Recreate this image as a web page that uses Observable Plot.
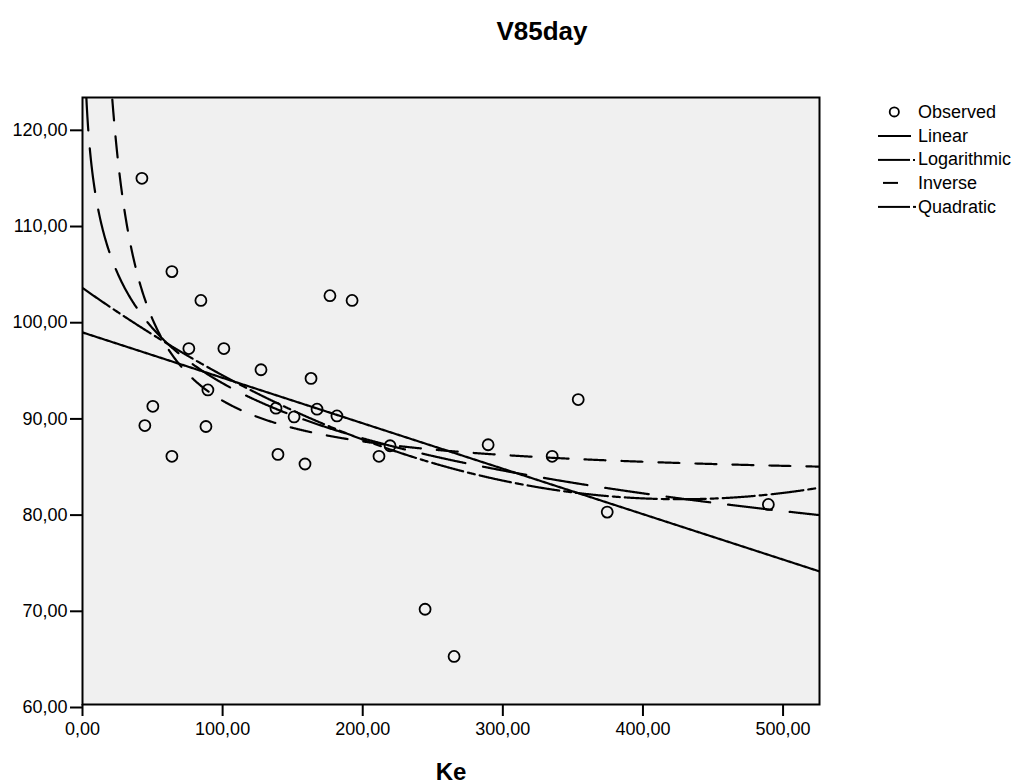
<!DOCTYPE html>
<html>
<head>
<meta charset="utf-8">
<script src="https://cdn.jsdelivr.net/npm/d3@7"></script>
<script src="https://cdn.jsdelivr.net/npm/@observablehq/plot@0.6"></script>
<style>
  html, body { margin: 0; padding: 0; background: #fff; }
  #wrap { position: relative; width: 1016px; height: 783px; font-family: "Liberation Sans", Arial, sans-serif; }
  #legend { position: absolute; left: 876px; top: 100px; }
  .row { display: flex; align-items: center; height: 23.75px; font-size: 18px; line-height: 1; color: #000; }
  .row span { margin-left: 2px; }
</style>
</head>
<body>
<div id="wrap"><div id="legend"></div></div>
<script>
const ke = [42.4, 63.8, 84.5, 75.9, 100.9, 89.5, 50.2, 44.5, 88.1, 63.8,
            127.4, 138.1, 139.5, 151.0, 158.8, 163.1, 167.4, 181.6, 176.6, 192.4,
            211.6, 219.5, 244.5, 265.2, 289.5, 335.2, 353.8, 374.5, 489.5];
const v85 = [114.7, 105.0, 102.0, 97.0, 97.0, 92.7, 91.0, 89.0, 88.9, 85.8,
             94.8, 90.8, 86.0, 89.9, 85.0, 93.9, 90.7, 90.0, 102.5, 102.0,
             85.8, 86.9, 69.9, 65.0, 87.0, 85.8, 91.7, 80.0, 80.8];
const xTicks = [0, 100, 200, 300, 400, 500];
const yTicks = [60, 70, 80, 90, 100, 110, 120];
const models = ["Linear", "Logarithmic", "Inverse", "Quadratic"];
const legendNames = ["Observed", "Linear", "Logarithmic", "Inverse", "Quadratic"];

// styles
const dashes = {Linear: null, Logarithmic: "44,18", Inverse: "21,16", Quadratic: "32,5,7,5"};
const fmt = d => d.toFixed(2).replace(".", ",");

// least squares fit on basis functions
function fit(basis) {
  const k = basis.length;
  const A = Array.from({length: k}, () => new Array(k + 1).fill(0));
  ke.forEach((x, i) => {
    const f = basis.map(b => b(x));
    for (let r = 0; r < k; r++) {
      for (let c = 0; c < k; c++) A[r][c] += f[r] * f[c];
      A[r][k] += f[r] * v85[i];
    }
  });
  for (let p = 0; p < k; p++) {
    let m = p;
    for (let r = p + 1; r < k; r++) if (Math.abs(A[r][p]) > Math.abs(A[m][p])) m = r;
    [A[p], A[m]] = [A[m], A[p]];
    for (let r = 0; r < k; r++) {
      if (r === p) continue;
      const t = A[r][p] / A[p][p];
      for (let c = p; c <= k; c++) A[r][c] -= t * A[p][c];
    }
  }
  const coef = A.map((row, i) => row[k] / row[i]);
  return x => basis.reduce((s, b, i) => s + coef[i] * b(x), 0);
}
const bases = {
  Linear: [x => 1, x => x],
  Logarithmic: [x => 1, x => Math.log(x)],
  Inverse: [x => 1, x => 1 / x],
  Quadratic: [x => 1, x => x, x => x * x]
};
const grid = d3.range(0.5, 526.01, 0.5);
const curves = models.map(name => {
  const f = fit(bases[name]);
  return {name, pts: grid.map(x => ({x, y: f(x)})).filter(d => d.y < 400)};
});

const observed = ke.map((x, i) => ({x, y: v85[i]}));

const plot = Plot.plot({
  width: 1016, height: 783,
  marginLeft: 82, marginRight: 197, marginTop: 97, marginBottom: 79,
  x: {domain: [0, 526]},
  y: {domain: [60, 123.1]},
  style: {fontFamily: "'Liberation Sans', Arial, sans-serif", background: "transparent", color: "#000"},
  marks: [
    Plot.frame({fill: "#f0f0f0"}),
    ...curves.map(c => Plot.line(c.pts, {x: "x", y: "y", stroke: "#000", strokeWidth: 2.2,
      strokeDasharray: dashes[c.name], clip: true})),
    Plot.dot(observed, {x: "x", y: "y", r: 5.5, stroke: "#000", strokeWidth: 1.8, fill: "none"}),
    Plot.frame({stroke: "#000", strokeWidth: 2}),
    Plot.axisY({ticks: yTicks, tickFormat: fmt, tickSize: 12, tickPadding: 3, fontSize: 18,
      strokeWidth: 2, label: null, dy: 3}),
    Plot.axisX({ticks: xTicks, tickFormat: fmt, tickSize: 12, tickPadding: 6, fontSize: 18,
      strokeWidth: 2, label: null}),
    Plot.text(["V85day"], {frameAnchor: "top", dx: 91, dy: -58, lineAnchor: "bottom",
      text: d => d, fontSize: 26, fontWeight: "bold", fill: "#000"}),
    Plot.text(["Ke"], {frameAnchor: "bottom", dy: 75, lineAnchor: "bottom",
      text: d => d, fontSize: 24, fontWeight: "bold", fill: "#000"})
  ]
});
const wrap = document.getElementById("wrap");
wrap.insertBefore(plot, wrap.firstChild);

// legend
const swatch = {
  Observed: '<circle cx="18.3" cy="11.9" r="4.6" fill="none" stroke="#000" stroke-width="1.8"/>',
  Linear: '<line x1="2" x2="35" y1="11.9" y2="11.9" stroke="#000" stroke-width="2"/>',
  Logarithmic: '<line x1="2" x2="34" y1="11.9" y2="11.9" stroke="#000" stroke-width="2"/><line x1="37" x2="39" y1="11.9" y2="11.9" stroke="#000" stroke-width="2"/>',
  Inverse: '<line x1="7" x2="22" y1="11.9" y2="11.9" stroke="#000" stroke-width="2"/>',
  Quadratic: '<line x1="2" x2="34" y1="11.9" y2="11.9" stroke="#000" stroke-width="2"/><line x1="37" x2="40" y1="11.9" y2="11.9" stroke="#000" stroke-width="2"/>'
};
const legend = document.getElementById("legend");
legendNames.forEach(n => {
  const row = document.createElement("div");
  row.className = "row";
  row.innerHTML = `<svg width="40" height="23.75">${swatch[n]}</svg><span>${n}</span>`;
  legend.appendChild(row);
});
</script>
</body>
</html>
